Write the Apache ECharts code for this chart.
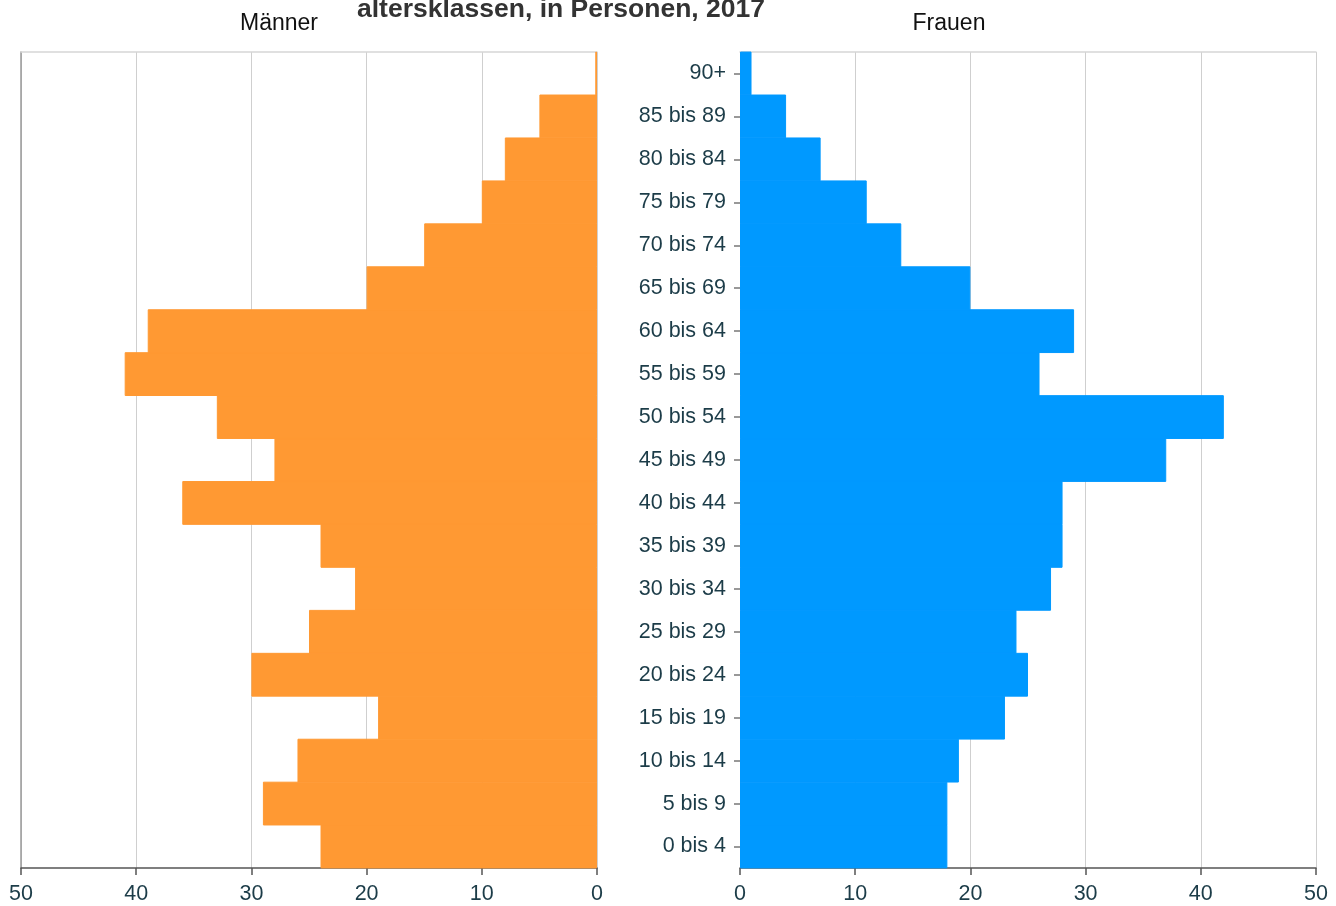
<!DOCTYPE html>
<html><head><meta charset="utf-8">
<script src="https://cdn.jsdelivr.net/npm/echarts@6/dist/echarts.min.js"></script>
<style>html,body{margin:0;padding:0;background:#fff}#c{width:1336px;height:906px}</style>
</head><body><div id="c"></div>
<script>
const categories = ['0 bis 4','5 bis 9','10 bis 14','15 bis 19','20 bis 24','25 bis 29','30 bis 34','35 bis 39','40 bis 44','45 bis 49','50 bis 54','55 bis 59','60 bis 64','65 bis 69','70 bis 74','75 bis 79','80 bis 84','85 bis 89','90+'];
const maenner = [24,29,26,19,30,25,21,24,36,28,33,41,39,20,15,10,8,5,0.15];
const frauen  = [18,18,19,23,25,24,27,28,28,37,42,26,29,20,14,11,7,4,1];
const xTicks = [0,10,20,30,40,50];
const titleText = 'altersklassen, in Personen, 2017';

const FONT = '"Liberation Sans", Arial, sans-serif';
const labelColor = '#1c3c48';
const chart = echarts.init(document.getElementById('c'));
const xBase = (grid, inverse) => ({
  type:'value', gridIndex:grid, min:xTicks[0], max:xTicks[xTicks.length-1], interval:10, inverse:inverse,
  position:'bottom',
  axisLine:{show:true, onZero:false, lineStyle:{color:'#555', width:1.5}},
  axisTick:{show:true, length:7, lineStyle:{color:'#555', width:1.5}},
  axisLabel:{color:labelColor, fontSize:21.5, fontFamily:FONT, margin:15},
  splitLine:{show:true, lineStyle:{color:'#cfcfcf', width:1}}
});
const xTop = (grid, inverse) => ({
  type:'value', gridIndex:grid, min:0, max:50, interval:10, inverse:inverse, position:'top',
  axisLine:{show:true, onZero:false, lineStyle:{color:'#d6d6d6', width:1.5}},
  axisTick:{show:false}, axisLabel:{show:false}, splitLine:{show:false}
});
chart.setOption({
  animation:false,
  textStyle:{fontFamily:FONT},
  title:[
    {text:titleText, left:556, top:-9, textAlign:'center', textStyle:{fontSize:26.5, fontWeight:'bold', color:'#333', fontFamily:FONT}},
    {text:'Männer', left:274, top:7, textAlign:'center', textStyle:{fontSize:23, fontWeight:'normal', color:'#111', fontFamily:FONT}},
    {text:'Frauen', left:944, top:7, textAlign:'center', textStyle:{fontSize:23, fontWeight:'normal', color:'#111', fontFamily:FONT}}
  ],
  grid:[
    {left:21, right:739, top:52, bottom:38},
    {left:740, right:20, top:52, bottom:38}
  ],
  xAxis:[xBase(0,true), xBase(1,false), xTop(0,true), xTop(1,false)],
  yAxis:[
    {type:'category', gridIndex:0, data:categories, position:'left',
     axisLine:{show:true, onZero:false, lineStyle:{color:'#9a9a9a', width:1.5}},
     axisTick:{show:false}, axisLabel:{show:false}, splitLine:{show:false}},
    {type:'category', gridIndex:1, data:categories, position:'left',
     axisLine:{show:false, onZero:false},
     axisTick:{show:true, alignWithLabel:true, length:6, lineStyle:{color:'#777', width:1.5}},
     axisLabel:{color:labelColor, fontSize:21.5, fontFamily:FONT, margin:14},
     splitLine:{show:false}}
  ],
  series:[
    {type:'bar', name:'Männer', xAxisIndex:0, yAxisIndex:0, data:maenner, barWidth:'102%',
     itemStyle:{color:'#FF9933', borderColor:'#FF9933', borderWidth:1}, silent:true},
    {type:'bar', name:'Frauen', xAxisIndex:1, yAxisIndex:1, data:frauen, barWidth:'102%',
     itemStyle:{color:'#0099FF', borderColor:'#0099FF', borderWidth:1}, silent:true}
  ]
});
</script></body></html>
